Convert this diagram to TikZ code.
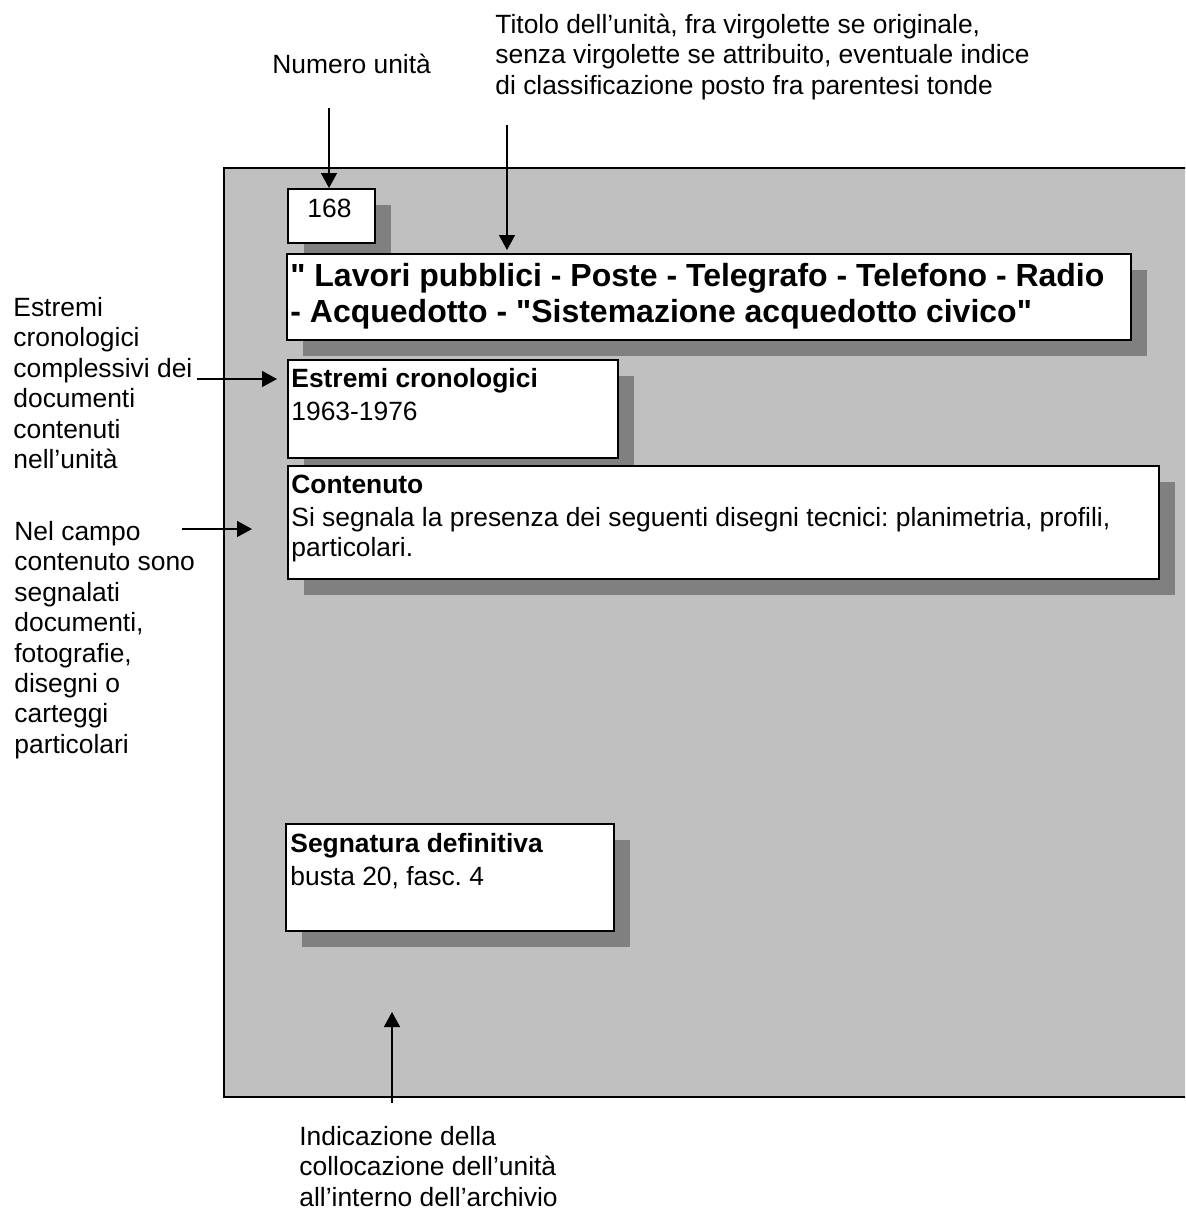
\documentclass[tikz,border=0pt]{standalone}
\usepackage{fontspec}
\setmainfont{Liberation Sans}
\usepackage{xcolor}
\usetikzlibrary{calc,arrows.meta,shadows}
\definecolor{panelgray}{HTML}{C0C0C0}
\definecolor{shadowgray}{HTML}{808080}
\newcommand{\topstrut}{\rule{0pt}{0.8em}}
\frenchspacing

\begin{document}
\begin{tikzpicture}[x=0.5pt,y=-0.5pt]
	\tikzstyle{every node}=[font=\fontsize{13.2}{15.2}\selectfont]
	\tikzstyle{card}=[draw,line width=1pt,fill=white,anchor=north west,inner sep=0pt,
		drop shadow={shadow xshift=8pt,shadow yshift=-8pt,fill=shadowgray,opacity=1}]
	\tikzstyle{cardtext}=[anchor=north west,inner sep=0pt,align=left]
	\tikzstyle{pointer}=[line width=0.75pt,-{Triangle[length=7.5pt,width=8pt]}]

	\useasboundingbox (0,0) rectangle (1185,1211);
	\clip (0,0) rectangle (1185,1211);

	% scheda
	\node[draw,line width=1pt,fill=panelgray,anchor=north west,inner sep=0pt,
		minimum width=490pt,minimum height=464.5pt] (panel) at (223,167) {};

	\node[card,minimum width=43.5pt,minimum height=27pt] (numbox) at (287,188) {};
	\node[card,minimum width=422pt,minimum height=43pt] (titlebox) at (286,253) {};
	\node[card,minimum width=165pt,minimum height=49pt] (datebox) at (287,359) {};
	\node[card,minimum width=435.5pt,minimum height=56.5pt] (contentbox) at (287,465) {};
	\node[card,minimum width=164pt,minimum height=53.5pt] (signbox) at (285,823) {};

	\node[cardtext] (numtext) at (307,196) {\topstrut 168};
	\node[cardtext,font=\fontsize{16}{18.4}\selectfont\bfseries] (titletext) at (290,260)
		{\topstrut\textquotedbl{} Lavori pubblici - Poste - Telegrafo - Telefono - Radio\\- Acquedotto - \textquotedbl Sistemazione acquedotto civico\textquotedbl};
	\node[cardtext] (datetext) at (291,366)
		{\topstrut\textbf{Estremi cronologici}\\[1.3pt]1963-1976};
	\node[cardtext] (contenttext) at (291,472)
		{\topstrut\textbf{Contenuto}\\[1.3pt]Si segnala la presenza dei seguenti disegni tecnici: planimetria, profili,\\particolari.};
	\node[cardtext] (signtext) at (290,831)
		{\topstrut\textbf{Segnatura definitiva}\\[1.3pt]busta 20, fasc. 4};

	% didascalie
	\node[cardtext] (numlabel) at (272,52) {\topstrut Numero unità};
	\node[cardtext] (titlelabel) at (495,12)
		{\topstrut Titolo dell’unità, fra virgolette se originale,\\senza virgolette se attribuito, eventuale indice\\di classificazione posto fra parentesi tonde};
	\node[cardtext] (datelabel) at (13,295)
		{\topstrut Estremi\\cronologici\\complessivi dei\\documenti\\contenuti\\nell’unità};
	\node[cardtext] (contentlabel) at (14,519)
		{\topstrut Nel campo\\contenuto sono\\segnalati\\documenti,\\fotografie,\\disegni o\\carteggi\\particolari};
	\node[cardtext] (placelabel) at (299,1124)
		{\topstrut Indicazione della\\collocazione dell’unità\\all’interno dell’archivio};

	\coordinate (numtail) at (329,108);
	\coordinate (titletail) at (507,125);
	\coordinate (titlehead) at (507,250);
	\coordinate (datetail) at (197,379);
	\coordinate (datehead) at (277,379);
	\coordinate (contenttail) at (182,529);
	\coordinate (contenthead) at (252,529);
	\coordinate (placetail) at (392,1103);
	\coordinate (placehead) at (392,1012);

	\draw[pointer] (numtail) -- (numtail |- numbox.north);
	\draw[pointer] (titletail) -- (titlehead);
	\draw[pointer] (datetail) -- (datehead);
	\draw[pointer] (contenttail) -- (contenthead);
	\draw[pointer] (placetail) -- (placehead);
\end{tikzpicture}
\end{document}
